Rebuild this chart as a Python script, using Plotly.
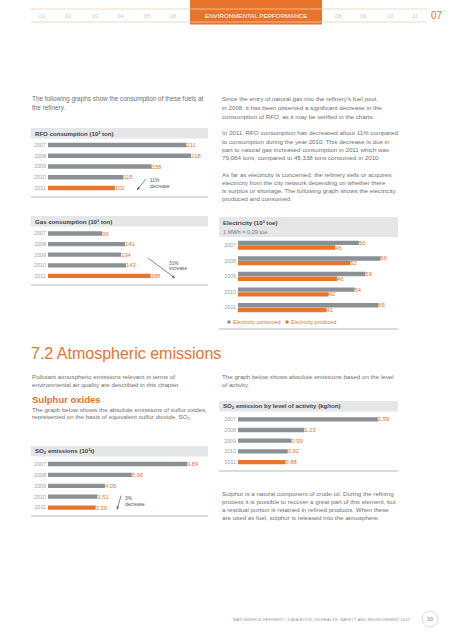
import math
import plotly.graph_objects as go

# ---------------- data ----------------
years = ["2007", "2008", "2009", "2010", "2011"]
rfo = [211, 218, 158, 115, 102]
gas = [99, 141, 134, 143, 188]
elec_consumed = [56, 66, 59, 54, 65]
elec_produced = [45, 52, 46, 42, 41]
so2 = [9.89, 5.96, 4.05, 3.51, 3.39]
so2_activity = [2.59, 1.23, 0.99, 0.92, 0.88]

nav_left = ["01", "02", "03", "04", "05", "06"]
nav_right = ["08", "09", "10", "11"]

# ---------------- style ----------------
W, H = 453, 640
GRAY = "#8b9094"
ORANGE = "#e8742c"
BAND = "#e4e6e7"
LINE = "#d8dcde"
TXT = "#707070"
TITLE = "#454545"
FONT = "Liberation Sans, Arial, sans-serif"
BODY = 6.2


def px(x):
    return x / W


def py(y):
    return 1 - y / H


fig = go.Figure()
shapes = []
annots = []


def text(x, y, s, size=BODY, color=TXT, anchor="left", bold=False, family=FONT):
    annots.append(dict(x=px(x), y=py(y), xref="paper", yref="paper", text=("<b>%s</b>" % s) if bold else s,
                       showarrow=False, xanchor=anchor, yanchor="middle", borderpad=0,
                       font=dict(size=size, color=color, family=family)))


def lines(x, y0, dy, ls, size=BODY, color=TXT):
    for i, s in enumerate(ls):
        text(x, y0 + i * dy, s, size=size, color=color)


def rect(x0, y0, x1, y1, color):
    shapes.append(dict(type="rect", xref="paper", yref="paper", x0=px(x0), x1=px(x1), y0=py(y1), y1=py(y0),
                       fillcolor=color, line=dict(width=0), layer="below"))


def hline(x0, x1, y, color, width=1):
    shapes.append(dict(type="line", xref="paper", yref="paper", x0=px(x0), x1=px(x1), y0=py(y), y1=py(y),
                       line=dict(color=color, width=width)))


def arrow(x0, y0, x1, y1, color="#555555"):
    shapes.append(dict(type="line", xref="paper", yref="paper", x0=px(x0), y0=py(y0), x1=px(x1), y1=py(y1),
                       line=dict(color=color, width=0.7)))
    dx, dy = x1 - x0, y1 - y0
    L = math.hypot(dx, dy)
    ux, uy = dx / L, dy / L
    nx, ny = -uy, ux
    bx, by = x1 - ux * 3, y1 - uy * 3
    pts = [(x1, y1), (bx + nx * 1.3, by + ny * 1.3), (bx - nx * 1.3, by - ny * 1.3)]
    path = "M %f,%f L %f,%f L %f,%f Z" % tuple(v for p in pts for v in (px(p[0]), py(p[1])))
    shapes.append(dict(type="path", xref="paper", yref="paper", path=path, fillcolor=color,
                       line=dict(width=0)))


axis_counter = [0]


def make_axes(x0, x1, xmax, rowtop, pitch):
    axis_counter[0] += 1
    n = axis_counter[0]
    sx = "" if n == 1 else str(n)
    top = rowtop - pitch / 2
    bot = rowtop + 4 * pitch + pitch / 2
    fig.layout["xaxis" + sx] = dict(domain=[px(x0), px(x1)], range=[0, xmax], visible=False,
                                    anchor="y" + sx, fixedrange=True)
    fig.layout["yaxis" + sx] = dict(domain=[py(bot), py(top)], type="category", autorange="reversed",
                                    anchor="x" + sx, showgrid=False, zeroline=False, showline=False, ticks="",
                                    ticklabelstandoff=1,
                                    tickfont=dict(size=5.3, color="#a0a0a0", family=FONT), fixedrange=True)
    return "x" + sx, "y" + sx


def single_chart(values, fmt, x0, scale, rowtop, pitch, x1=208):
    xa, ya = make_axes(x0, x1, (x1 - x0) / scale, rowtop, pitch)
    cols = [GRAY] * 4 + [ORANGE]
    fig.add_trace(go.Bar(y=years, x=values, orientation="h", xaxis=xa, yaxis=ya,
                         marker=dict(color=cols, line=dict(width=0)), width=4.3 / pitch,
                         text=[fmt.format(v) for v in values], textposition="outside",
                         textfont=dict(size=5.8, color=ORANGE, family=FONT), cliponaxis=False,
                         constraintext="none", showlegend=False, hoverinfo="skip"))


# ---------------- header navigation ----------------
hline(31, 427, 9, "#f2cdb0", 0.8)
hline(31, 427, 22, "#f2cdb0", 0.8)
rect(190, 0, 322, 24.5, ORANGE)
text(256, 15.5, "ENVIRONMENTAL PERFORMANCE", size=6.2, color="white", anchor="center")
for lab, x in zip(nav_left, [42, 68, 95, 121, 147, 173]):
    text(x, 16, lab, size=5.8, color="#c9c9c9", anchor="center")
for lab, x in zip(nav_right, [338, 363, 390, 415]):
    text(x, 16, lab, size=5.8, color="#c9c9c9", anchor="center")
text(437, 15, "07", size=10, color=ORANGE, anchor="center")

# ---------------- text blocks ----------------
lines(31, 99, 8.6, ["The following graphs show the consumption of these fuels at",
                    "the refinery."], size=6.4)
lines(221, 99, 8.6, ["Since the entry of natural gas into the refinery's fuel pool,",
                     "in 2008, it has been observed a significant decrease in the",
                     "consumption of RFO, as it may be verified in the charts."])
lines(221, 133, 8.1, ["In 2011, RFO consumption has decreased about 11% compared",
                      "to consumption during the year 2010. This decrease is due in",
                      "part to natural gas increased consumption in 2011 which was",
                      "79,064 tons, compared to 45,338 tons consumed in 2010."])
lines(221, 174, 8.3, ["As far as electricity is concerned, the refinery sells or acquires",
                      "electricity from the city network depending on whether there",
                      "is surplus or shortage. The following graph shows the electricity",
                      "produced and consumed."])

text(30, 353, "7.2 Atmospheric emissions", size=16, color=ORANGE)
lines(31, 376, 8.3, ["Pollutant atmospheric emissions relevant in terms of",
                     "environmental air quality are described in this chapter."])
text(31, 399.5, "<b>Sulphur oxides</b>", size=9.5, color=ORANGE)
lines(31, 409, 8.3, ["The graph below shows the absolute emissions of sulfur oxides,",
                     "represented on the basis of equivalent sulfur dioxide, SO<sub>2</sub>."])
lines(221, 376, 8.3, ["The graph below shows absolute emissions based on the level",
                      "of activity."])
lines(221, 493, 8.1, ["Sulphur is a natural component of crude oil. During the refining",
                      "process it is possible to recover a great part of this element, but",
                      "a residual portion is retained in refined products. When these",
                      "are used as fuel, sulphur is released into the atmosphere."])

# ---------------- RFO chart ----------------
rect(31, 128, 208, 138.5, BAND)
text(34, 133.3, "RFO consumption (10³ ton)", size=6.1, color=TITLE, bold=True)
single_chart(rfo, "{}", 48, 0.656, 145, 10.75)
hline(31, 208, 197, LINE, 2)
arrow(146, 179, 137, 190)
text(149, 180.5, "11%", size=4.8, color="#555")
text(149, 186.5, "decrease", size=4.8, color="#555")

# ---------------- Gas chart ----------------
rect(31, 216, 208, 226.5, BAND)
text(34, 221.3, "Gas consumption (10³ ton)", size=6.1, color=TITLE, bold=True)
single_chart(gas, "{}", 48, 0.546, 233.5, 10.6)
hline(31, 208, 285, LINE, 2)
arrow(148, 258, 175, 278)
text(168, 263, "31%", size=4.8, color="#555")
text(168, 268.5, "increase", size=4.8, color="#555")

# ---------------- Electricity chart ----------------
rect(219, 217, 398, 237, BAND)
text(222, 222.5, "Electricity (10³ toe)", size=6.1, color=TITLE, bold=True)
text(222, 231.5, "1 MWh = 0,29 toe", size=5.6, color="#7a7a7a")
pitch_e = 15.6
xa, ya = make_axes(238, 398, 160 / 2.16, 245.2, pitch_e)
wbar = 4.4 / pitch_e
fig.add_trace(go.Bar(y=years, x=elec_consumed, orientation="h", xaxis=xa, yaxis=ya, name="Electricity consumed",
                     marker=dict(color=GRAY, line=dict(width=0)), width=wbar, offset=-wbar - 0.01,
                     text=[str(v) for v in elec_consumed], textposition="outside",
                     textfont=dict(size=5.8, color=ORANGE, family=FONT), cliponaxis=False,
                     constraintext="none", showlegend=False, hoverinfo="skip"))
fig.add_trace(go.Bar(y=years, x=elec_produced, orientation="h", xaxis=xa, yaxis=ya, name="Electricity produced",
                     marker=dict(color=ORANGE, line=dict(width=0)), width=wbar, offset=0.01,
                     text=[str(v) for v in elec_produced], textposition="outside",
                     textfont=dict(size=5.8, color=ORANGE, family=FONT), cliponaxis=False,
                     constraintext="none", showlegend=False, hoverinfo="skip"))
rect(227.5, 320.5, 230.5, 323.5, GRAY)
text(232, 322, "Electricity consumed", size=5.2, color=ORANGE)
rect(285.5, 320.5, 288.5, 323.5, ORANGE)
text(290, 322, "Electricity produced", size=5.2, color=ORANGE)
hline(219, 398, 329, LINE, 2)

# ---------------- SO2 emissions chart ----------------
rect(31, 446, 208, 456.5, BAND)
text(34, 451.3, "SO<sub>2</sub> emissions (10³t)", size=6.1, color=TITLE, bold=True)
r0, pt = 464, 10.9
single_chart(so2, "{:.2f}", 48, 14.05, r0, pt)
hline(31, 208, r0 + 4 * pt + 8.5, LINE, 2)
arrow(121, r0 + 3 * pt - 1, 117, r0 + 4 * pt + 2)
text(124, r0 + 3 * pt + 1.5, "3%", size=4.8, color="#555")
text(124, r0 + 3 * pt + 7.5, "decrease", size=4.8, color="#555")

# ---------------- SO2 by activity chart ----------------
rect(219, 401, 398, 411.5, BAND)
text(222, 406.3, "SO<sub>2</sub> emission by level of activity (kg/ton)", size=6.1, color=TITLE, bold=True)
single_chart(so2_activity, "{:.2f}", 238, 54.0, 419.3, 10.7, x1=398)
hline(219, 398, 471, LINE, 2)

# ---------------- footer ----------------
text(232, 619, "MATOSINHOS REFINERY / DATA BOOK ON HEALTH, SAFETY AND ENVIRONMENT 2011", size=4.3,
     color="#9a9a9a")
shapes.append(dict(type="circle", xref="paper", yref="paper", x0=px(422), x1=px(438), y0=py(627), y1=py(611),
                   line=dict(color="#d0d0d0", width=0.8)))
text(430, 619, "33", size=5.3, color="#888", anchor="center")

fig.update_layout(width=W, height=H, margin=dict(l=0, r=0, t=0, b=0), paper_bgcolor="white",
                  plot_bgcolor="rgba(0,0,0,0)", shapes=shapes, annotations=annots, showlegend=False,
                  barmode="overlay", font=dict(family=FONT))
fig.write_html("out.html", config={"displayModeBar": False},
               post_script="document.body.style.margin='0';document.body.style.overflow='hidden';")
